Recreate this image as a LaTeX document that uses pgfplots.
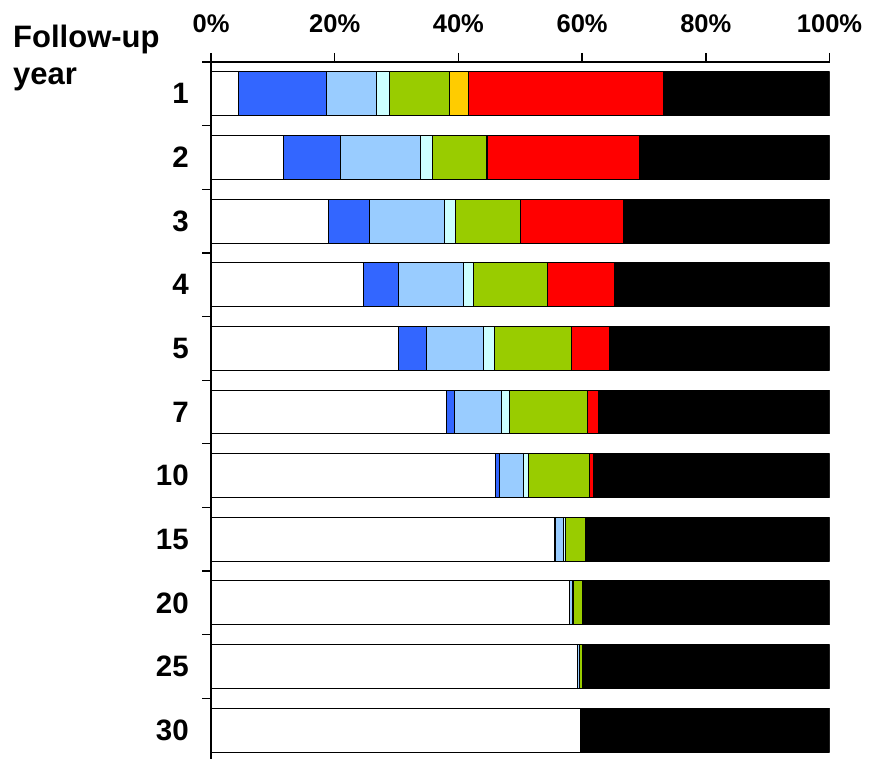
\documentclass[border=0pt]{standalone}
\usepackage{pgfplots}
\usepackage{pgfplotstable}
\pgfplotsset{compat=1.18}
\usetikzlibrary{calc}
\usepackage{fontspec}
\setmainfont{Liberation Sans}
\definecolor{cblue}{HTML}{3366FF}
\definecolor{clblue}{HTML}{99CCFF}
\definecolor{ccyan}{HTML}{CCFFFF}
\definecolor{cgreen}{HTML}{99CC00}
\definecolor{cgold}{HTML}{FFCC00}
\definecolor{cred}{HTML}{FF0000}

\pgfplotstableread{
y white blue lblue cyan green gold red black
11 4.4 14.2 8.1 2.2 9.7 3.0 31.5 26.9
10 11.8 9.1 12.9 2.0 8.7 0.2 24.5 30.8
9 19.0 6.7 12.0 1.9 10.4 0 16.7 33.3
8 24.7 5.6 10.6 1.6 11.9 0 10.9 34.7
7 30.3 4.5 9.3 1.7 12.5 0 6.1 35.6
6 38.0 1.3 7.7 1.3 12.5 0 1.9 37.3
5 46.0 0.7 3.9 0.7 9.9 0 0.6 38.2
4 55.5 0.2 1.3 0.3 3.2 0 0 39.5
3 57.9 0 0.6 0.1 1.5 0 0 39.9
2 59.3 0 0.2 0.1 0.4 0 0 40.0
1 59.8 0 0 0 0 0 0 40.2
}\data

\begin{document}
\begin{tikzpicture}[x=1pt,y=1pt]
\begin{axis}[
  name=ax,
  at={(211pt,-4pt)}, anchor=south west,
  scale only axis, width=618.5pt, height=700pt,
  xbar stacked, bar width=0.69,
  xmin=0, xmax=100, ymin=0.5, ymax=11.5,
  axis x line=top, axis y line=left,
  axis line style={-, line width=1.5pt, black},
  xtick={0,20,40,60,80,100},
  xticklabels={0\%,20\%,40\%,60\%,80\%,100\%},
  ytick={1,...,11},
  yticklabels={30,25,20,15,10,7,5,4,3,2,1},
  tick align=outside, major tick length=9pt,
  xtick style={line width=1.2pt, black},
  ytick style={draw=none},
  extra y ticks={0.5,1.5,...,11.5},
  extra y tick labels={},
  extra y tick style={ytick style={draw=black, line width=1.2pt}},
  xticklabel style={font=\fontsize{25.5}{30}\selectfont\bfseries, anchor=base, inner sep=0pt, yshift=20pt},
  yticklabel style={font=\fontsize{29.5}{35}\selectfont\bfseries, anchor=east, inner sep=0pt, xshift=-13pt},
  every axis plot/.append style={draw=black, line width=1pt},
]
\addplot[fill=white, draw=black] table[x=white, y=y] {\data};
\addplot[fill=cblue, draw=black] table[x=blue, y=y] {\data};
\addplot[fill=clblue, draw=black] table[x=lblue, y=y] {\data};
\addplot[fill=ccyan, draw=black] table[x=cyan, y=y] {\data};
\addplot[fill=cgreen, draw=black] table[x=green, y=y] {\data};
\addplot[fill=cgold, draw=black] table[x=gold, y=y] {\data};
\addplot[fill=cred, draw=black] table[x=red, y=y] {\data};
\addplot[fill=black, draw=black] table[x=black, y=y] {\data};
\end{axis}
\draw[line width=2pt, black] (ax.north west) -- (ax.north east);
\foreach \i in {0,...,5} {
  \draw[line width=1.5pt, black] ($(ax.north west)!\i/5!(ax.north east)$) -- ++(0,9);
}
\draw[line width=1.5pt, black] (ax.north west) -- ++(-9,0);
\draw[line width=1.5pt, black] (ax.north west) -- ++(0,9);
\node[anchor=base west, inner sep=0pt, font=\fontsize{31}{37}\selectfont\bfseries] at (13,710) {Follow-up};
\node[anchor=base west, inner sep=0pt, font=\fontsize{31}{37}\selectfont\bfseries] at (13,673) {year};
\pgfresetboundingbox
\useasboundingbox (0,0) rectangle (869,758);
\end{tikzpicture}
\end{document}
